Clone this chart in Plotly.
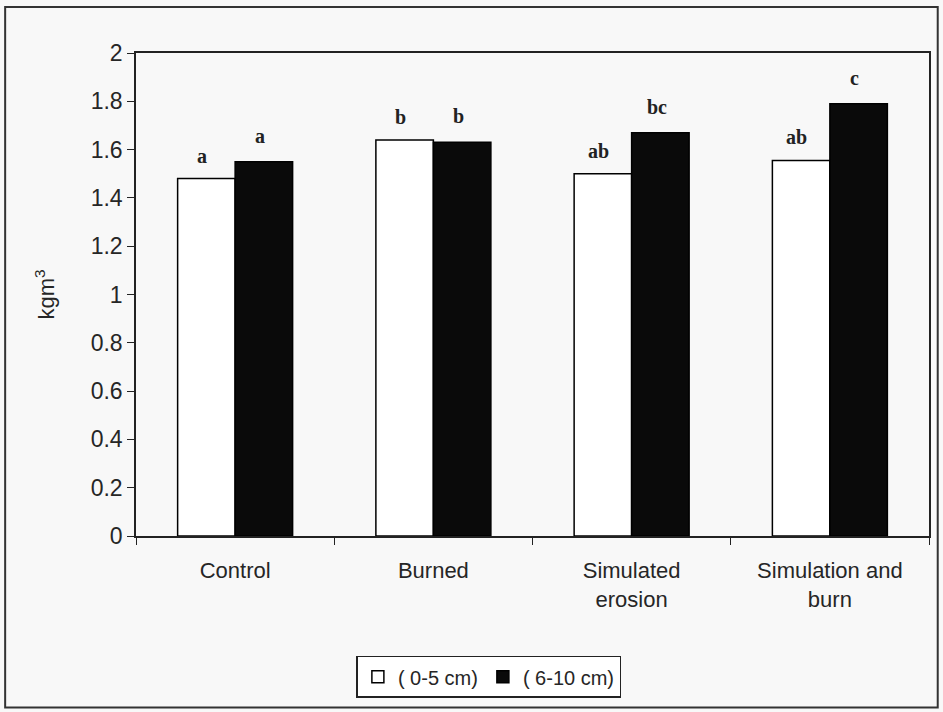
import plotly.graph_objects as go

categories = ["Control", "Burned", "Simulated<br>erosion", "Simulation and<br>burn"]
depth_0_5 = [1.48, 1.64, 1.50, 1.555]
depth_6_10 = [1.55, 1.63, 1.67, 1.79]
letters_0_5 = ["a", "b", "ab", "ab"]
letters_6_10 = ["a", "b", "bc", "c"]
series_names = ["( 0-5 cm)", "( 6-10 cm)"]
y_ticks = [0, 0.2, 0.4, 0.6, 0.8, 1, 1.2, 1.4, 1.6, 1.8, 2]

bg = "#f8f8f8"
txt = "#262626"

fig = go.Figure()
fig.add_trace(go.Bar(x=categories, y=depth_0_5, name=series_names[0],
                     marker=dict(color="white", line=dict(color="black", width=1.5))))
fig.add_trace(go.Bar(x=categories, y=depth_6_10, name=series_names[1],
                     marker=dict(color="#0a0a0a", line=dict(color="black", width=1.5))))

for cat, v, t in zip(categories, depth_0_5, letters_0_5):
    fig.add_annotation(x=cat, y=v, text="<b>%s</b>" % t, showarrow=False, xshift=-33,
                       yanchor="bottom", yshift=10,
                       font=dict(family="Liberation Serif, Times New Roman, serif", size=20, color="#222"))
for cat, v, t in zip(categories, depth_6_10, letters_6_10):
    fig.add_annotation(x=cat, y=v, text="<b>%s</b>" % t, showarrow=False, xshift=25,
                       yanchor="bottom", yshift=13,
                       font=dict(family="Liberation Serif, Times New Roman, serif", size=20, color="#222"))

fig.update_layout(
    width=943, height=712,
    margin=dict(l=136, r=12, t=53, b=176),
    paper_bgcolor=bg, plot_bgcolor=bg,
    barmode="group", bargap=0.42, bargroupgap=0,
    font=dict(family="Liberation Sans, Arial, sans-serif", size=22, color=txt),
    showlegend=True,
    legend=dict(orientation="h", x=0.445, xanchor="center", y=-0.248, yanchor="top",
                bgcolor="white", bordercolor="#222", borderwidth=1.5,
                font=dict(size=20, color=txt), itemwidth=30, tracegroupgap=0),
    shapes=[dict(type="rect", xref="paper", yref="paper",
                 x0=-0.165, x1=1.011, y0=-0.355, y1=1.095,
                 line=dict(color="#333", width=2), fillcolor="rgba(0,0,0,0)", layer="below")],
)
fig.update_xaxes(showline=True, linecolor="#222", linewidth=1.5, mirror=True,
                 ticks="outside", ticklen=7, tickcolor="#222", tickson="boundaries",
                 ticklabelstandoff=14,
                 showgrid=False, tickfont=dict(size=22, color=txt))
fig.update_yaxes(range=[0, 2], tickvals=y_ticks, ticktext=[("%g" % v) for v in y_ticks],
                 showline=True, linecolor="#222", linewidth=1.5, mirror=True,
                 ticks="outside", ticklen=7, tickcolor="#222", showgrid=False, zeroline=False,
                 tickfont=dict(size=23, color=txt),
                 title=dict(text="kgm<sup>3</sup>", font=dict(size=22, color=txt), standoff=30))

fig.write_html("out.html")
